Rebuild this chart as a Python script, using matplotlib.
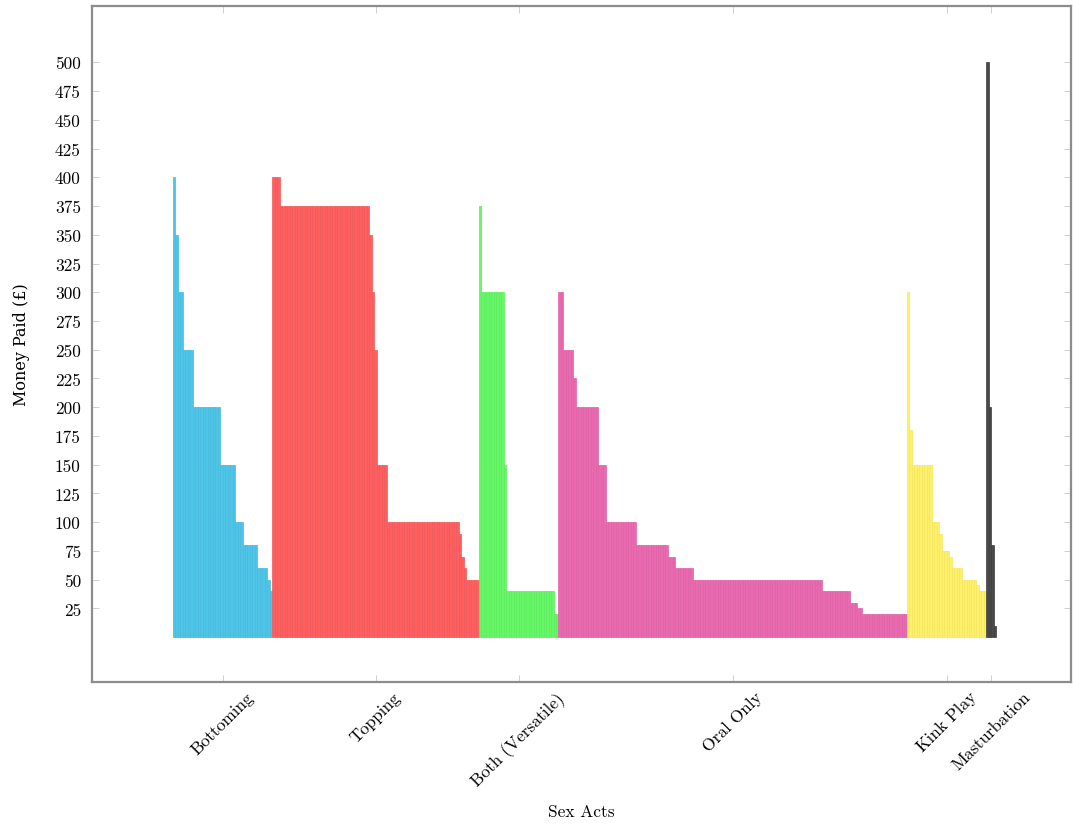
import matplotlib
matplotlib.use('Agg')
import matplotlib.pyplot as plt
import numpy as np

plt.rcParams['font.family'] = ['cmr10', 'DejaVu Serif']
plt.rcParams['axes.formatter.use_mathtext'] = True

# groups of bars: payment values (sorted high to low) and how many bars at each value
categories = ['Bottoming', 'Topping', 'Both (Versatile)', 'Oral Only', 'Kink Play', 'Masturbation']

bottoming_vals = [400, 350, 300, 250, 200, 150, 100, 80, 60, 50, 40]
bottoming_counts = [1, 1, 2, 4, 11, 6, 3, 6, 4, 1, 1]

topping_vals = [400, 375, 350, 300, 250, 150, 100, 90, 70, 60, 50]
topping_counts = [3, 36, 1, 1, 1, 4, 29, 1, 1, 1, 5]

both_vals = [375, 300, 150, 40, 20]
both_counts = [1, 9, 1, 19, 2]

oral_vals = [300, 250, 225, 200, 150, 100, 80, 70, 60, 50, 40, 30, 25, 20]
oral_counts = [2, 4, 1, 9, 3, 12, 13, 3, 7, 52, 11, 3, 2, 18]

kink_vals = [300, 180, 150, 100, 90, 75, 70, 60, 50, 45, 40]
kink_counts = [1, 1, 8, 3, 1, 3, 1, 4, 6, 1, 3]

mast_vals = [500, 200, 80, 10]
mast_counts = [1, 1, 1, 1]

colors = ['#4ec4e6', '#ff5f5f', '#66f766', '#e96aaf', '#fff06a', '#4a4a4a']
edge_colors = ['#45bade', '#f05858', '#5eec5e', '#df62a6', '#f4e660', '#3c3c3c']

yticks = list(range(25, 501, 25))

groups = [
    (bottoming_vals, bottoming_counts),
    (topping_vals, topping_counts),
    (both_vals, both_counts),
    (oral_vals, oral_counts),
    (kink_vals, kink_counts),
    (mast_vals, mast_counts),
]

fig = plt.figure(figsize=(10.73, 8.28), dpi=100)
ax = fig.add_axes([92 / 1073, 1 - 683 / 828, (1071 - 92) / 1073, (683 - 7) / 828])

start = 0
centers = []
for (vals, counts), c, ec in zip(groups, colors, edge_colors):
    heights = np.repeat(vals, counts)
    x = np.arange(start, start + len(heights))
    ax.bar(x, heights, width=1.0, color=c, edgecolor=ec, linewidth=0.5)
    centers.append(start + (len(heights) - 1) / 2)
    start += len(heights)

ax.set_xlim(-33, start + 29.5)
ax.set_ylim(-39, 549)

ax.set_yticks(yticks)
ax.set_yticklabels([str(v) for v in yticks], fontsize=12.5)
ax.set_xticks(centers)
ax.set_xticklabels(categories, rotation=45, ha='center', va='top', fontsize=12.5)

ax.tick_params(axis='both', direction='in', length=5, width=0.6, color='#c8c8c8',
               top=True, right=True, pad=8)
ax.tick_params(axis='x', pad=5)

for s in ax.spines.values():
    s.set_color('#8c8c8c')
    s.set_linewidth(1.6)

ax.set_xlabel('Sex Acts', fontsize=12.5, labelpad=10)
# cmr10 has no pound sign, so this label uses a serif font that does
ax.set_ylabel('Money Paid (£)', fontsize=11.5, labelpad=18, family=['DejaVu Serif'])

fig.savefig('out.png', dpi=100)
